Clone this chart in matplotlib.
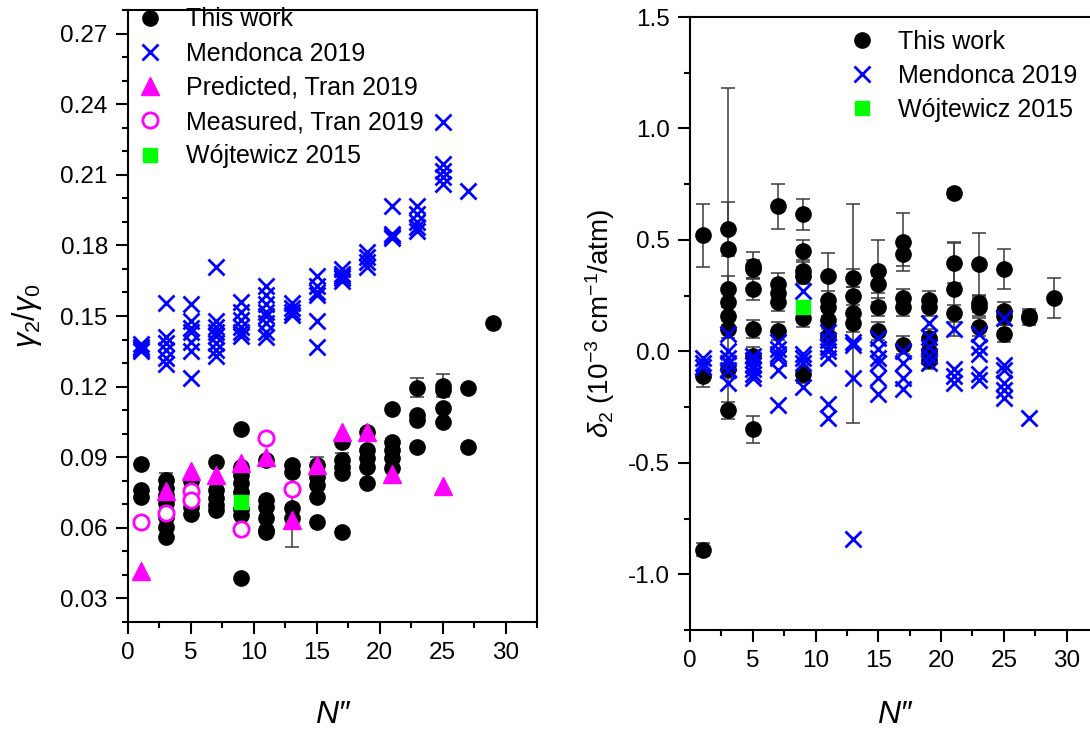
import matplotlib
matplotlib.use("Agg")
import matplotlib.pyplot as plt
from matplotlib.ticker import MultipleLocator

plt.rcParams['font.family'] = ['Liberation Sans', 'DejaVu Sans']
plt.rcParams['mathtext.fontset'] = 'custom'
plt.rcParams['mathtext.rm'] = 'Liberation Sans'
plt.rcParams['mathtext.it'] = 'Liberation Sans:italic'
plt.rcParams['axes.unicode_minus'] = False

# ---- left panel: gamma2/gamma0 ----
# This work (N'', value, error)
tw_n = [1, 1, 1,
        3, 3, 3, 3, 3, 3, 3,
        5, 5, 5, 5,
        7, 7, 7, 7, 7,
        9, 9, 9, 9, 9, 9, 9, 9,
        11, 11, 11, 11, 11, 11,
        13, 13, 13, 13,
        15, 15, 15, 15, 15,
        17, 17, 17, 17, 17,
        19, 19, 19, 19, 19,
        21, 21, 21, 21, 21,
        23, 23, 23, 23,
        25, 25, 25, 25,
        27, 27,
        29]
tw_g = [0.087, 0.076, 0.073,
        0.0804, 0.077, 0.074, 0.0706, 0.0647, 0.0604, 0.0562,
        0.080, 0.072, 0.069, 0.066,
        0.088, 0.0762, 0.0728, 0.0698, 0.0677,
        0.102, 0.086, 0.0826, 0.0792, 0.0753, 0.068, 0.0655, 0.0387,
        0.089, 0.0719, 0.069, 0.0643, 0.0591, 0.0583,
        0.0868, 0.0838, 0.0685, 0.064,
        0.0868, 0.0817, 0.0783, 0.0732, 0.0626,
        0.0966, 0.089, 0.086, 0.0834, 0.0583,
        0.1009, 0.0932, 0.0898, 0.086, 0.0792,
        0.1106, 0.0966, 0.0932, 0.0898, 0.0855,
        0.1196, 0.108, 0.106, 0.0945,
        0.1204, 0.1185, 0.111, 0.105,
        0.1196, 0.0945,
        0.1472]
tw_gerr = [0.001, 0.001, 0.001,
           0.003, 0.001, 0.001, 0.001, 0.001, 0.001, 0.001,
           0.001, 0.001, 0.001, 0.001,
           0.001, 0.001, 0.001, 0.001, 0.001,
           0.001, 0.001, 0.001, 0.001, 0.001, 0.001, 0.001, 0.001,
           0.001, 0.001, 0.001, 0.001, 0.001, 0.001,
           0.001, 0.001, 0.001, 0.012,
           0.0035, 0.001, 0.001, 0.001, 0.001,
           0.001, 0.003, 0.001, 0.001, 0.001,
           0.001, 0.001, 0.001, 0.001, 0.001,
           0.001, 0.001, 0.001, 0.001, 0.001,
           0.004, 0.001, 0.001, 0.001,
           0.005, 0.001, 0.001, 0.001,
           0.001, 0.001,
           0.001]

# Mendonca 2019
men_n = [1, 1, 1, 1,
         3, 3, 3, 3, 3, 3,
         5, 5, 5, 5, 5, 5, 5,
         7, 7, 7, 7, 7, 7, 7, 7,
         9, 9, 9, 9, 9, 9,
         11, 11, 11, 11, 11, 11, 11, 11,
         13, 13, 13, 13,
         15, 15, 15, 15, 15, 15,
         17, 17, 17, 17, 17,
         19, 19, 19, 19,
         21, 21, 21, 21,
         23, 23, 23, 23, 23,
         25, 25, 25, 25, 25,
         27]
men_g = [0.138, 0.137, 0.136, 0.135,
         0.1557, 0.1409, 0.1387, 0.1357, 0.1323, 0.1294,
         0.1553, 0.1477, 0.1451, 0.143, 0.1391, 0.135, 0.1238,
         0.171, 0.1477, 0.1455, 0.1434, 0.1413, 0.1387, 0.1357, 0.1328,
         0.156, 0.1519, 0.1485, 0.1455, 0.1434, 0.1413,
         0.1626, 0.159, 0.1549, 0.1519, 0.1498, 0.147, 0.1434, 0.141,
         0.1557, 0.1536, 0.1519, 0.1506,
         0.1668, 0.1626, 0.1604, 0.159, 0.1477, 0.137,
         0.170, 0.168, 0.167, 0.166, 0.165,
         0.177, 0.175, 0.173, 0.171,
         0.1966, 0.185, 0.184, 0.183,
         0.1966, 0.1932, 0.190, 0.188, 0.186,
         0.2323, 0.2145, 0.2115, 0.209, 0.206,
         0.203]

# Tran 2019
pred_n = [1, 3, 5, 7, 9, 11, 13, 15, 17, 19, 21, 25]
pred_g = [0.0415, 0.0757, 0.0843, 0.0826, 0.0877, 0.0902, 0.0634, 0.0868, 0.1009, 0.1009, 0.083, 0.0779]
meas_n = [1, 3, 5, 5, 9, 11, 13]
meas_g = [0.0626, 0.0664, 0.0757, 0.0719, 0.0596, 0.0983, 0.0766]

# Wojtewicz 2015
woj_n = [9]
woj_g = [0.0711]

# ---- right panel: delta2 ----
td_n = [1, 1, 1,
        3, 3, 3, 3, 3, 3, 3, 3,
        5, 5, 5, 5, 5, 5,
        7, 7, 7, 7, 7,
        9, 9, 9, 9, 9, 9,
        11, 11, 11, 11, 11,
        13, 13, 13, 13,
        15, 15, 15, 15,
        17, 17, 17, 17, 17,
        19, 19, 19, 19, 19,
        21, 21, 21, 21,
        23, 23, 23, 23,
        25, 25, 25, 25,
        27, 27,
        29]
td_d = [0.52, -0.11, -0.89,
        0.55, 0.46, 0.28, 0.22, 0.16, 0.10, -0.08, -0.265,
        0.385, 0.37, 0.28, 0.10, -0.02, -0.35,
        0.65, 0.30, 0.26, 0.22, 0.09,
        0.615, 0.45, 0.36, 0.34, 0.15, -0.10,
        0.34, 0.23, 0.20, 0.14, 0.07,
        0.33, 0.25, 0.17, 0.125,
        0.36, 0.30, 0.20, 0.09,
        0.49, 0.435, 0.24, 0.20, 0.03,
        0.23, 0.20, 0.06, 0.0, -0.04,
        0.71, 0.395, 0.28, 0.17,
        0.39, 0.215, 0.20, 0.11,
        0.37, 0.18, 0.16, 0.08,
        0.16, 0.15,
        0.24]
td_err = [0.14, 0.05, 0.03,
          0.12, 0.72, 0.06, 0.05, 0.04, 0.04, 0.04, 0.04,
          0.06, 0.04, 0.05, 0.04, 0.04, 0.06,
          0.10, 0.05, 0.04, 0.04, 0.04,
          0.07, 0.05, 0.05, 0.04, 0.04, 0.04,
          0.10, 0.04, 0.04, 0.04, 0.04,
          0.04, 0.04, 0.49, 0.04,
          0.14, 0.04, 0.04, 0.04,
          0.13, 0.05, 0.04, 0.04, 0.04,
          0.04, 0.04, 0.04, 0.04, 0.04,
          0.02, 0.09, 0.21, 0.04,
          0.14, 0.04, 0.04, 0.04,
          0.09, 0.04, 0.04, 0.04,
          0.03, 0.03,
          0.09]

mend_n = [1, 1, 1,
          3, 3, 3, 3, 3, 3,
          5, 5, 5, 5, 5, 5,
          7, 7, 7, 7, 7, 7,
          9, 9, 9, 9, 9,
          11, 11, 11, 11, 11, 11, 11,
          13, 13, 13, 13,
          15, 15, 15, 15, 15, 15,
          17, 17, 17, 17,
          19, 19, 19, 19, 19,
          21, 21, 21, 21,
          23, 23, 23, 23, 23,
          25, 25, 25, 25, 25, 25,
          27]
mend_d = [-0.03, -0.05, -0.07,
          0.08, 0.0, -0.03, -0.05, -0.085, -0.14,
          -0.02, -0.04, -0.06, -0.08, -0.10, -0.12,
          0.04, 0.01, -0.01, -0.03, -0.085, -0.24,
          0.27, -0.01, -0.03, -0.05, -0.16,
          0.085, 0.05, 0.02, 0.0, -0.03, -0.235, -0.30,
          0.04, 0.03, -0.12, -0.84,
          0.06, 0.01, -0.03, -0.05, -0.12, -0.19,
          0.0, -0.05, -0.12, -0.17,
          0.125, 0.065, 0.02, -0.02, -0.05,
          0.10, -0.08, -0.11, -0.14,
          0.08, 0.02, -0.01, -0.10, -0.13,
          0.15, -0.06, -0.085, -0.14, -0.175, -0.21,
          -0.30]

wojd_n = [9]
wojd_d = [0.20]

blue = '#0000FF'
mag = '#FF00FF'
green = '#00FF00'

fig = plt.figure(figsize=(10.9, 7.29), dpi=100)
ax1 = fig.add_axes([128 / 1090, 107 / 729, 409 / 1090, 612 / 729])
ax2 = fig.add_axes([690 / 1090, 99 / 729, 408 / 1090, 613 / 729])

ebkw = dict(fmt='none', ecolor='#3a3a3a', elinewidth=1.1, capsize=5, capthick=1.1, zorder=1)
legkw = dict(loc='upper left', frameon=False, fontsize=18, handlelength=1.0,
             handletextpad=0.95, borderpad=0.38, borderaxespad=0, labelspacing=0.41,
             numpoints=1)

# left
ax1.errorbar(tw_n, tw_g, yerr=tw_gerr, **ebkw)
ax1.plot(tw_n, tw_g, 'o', color='black', ms=11, label='This work', zorder=2)
ax1.plot(men_n, men_g, 'x', color=blue, ms=11, mew=2, label='Mendonca 2019', zorder=3)
ax1.plot(pred_n, pred_g, '^', color=mag, ms=13, label='Predicted, Tran 2019', zorder=4)
ax1.plot(meas_n, meas_g, 'o', mfc='white', mec=mag, mew=2, ms=11, label='Measured, Tran 2019', zorder=5)
ax1.plot(woj_n, woj_g, 's', color=green, ms=10, label='Wójtewicz 2015', zorder=6)

ax1.set_xlim(0, 32.5)
ax1.set_ylim(0.02, 0.28)
ax1.xaxis.set_major_locator(MultipleLocator(5))
ax1.xaxis.set_minor_locator(MultipleLocator(2.5))
ax1.yaxis.set_minor_locator(MultipleLocator(0.01))
ax1.set_yticks([0.03, 0.06, 0.09, 0.12, 0.15, 0.18, 0.21, 0.24, 0.27])
ax1.set_yticklabels(['0.03', '0.06', '0.09', '0.12', '0.15', '0.18', '0.21', '0.24', '0.27'])
ax1.set_ylabel(r'$\gamma_2/\gamma_0$', fontsize=22)
ax1.yaxis.set_label_coords(-0.205, 0.5)
ax1.set_xlabel('N\u2033', fontsize=23, style='italic')
ax1.xaxis.set_label_coords(0.5, -0.128)
ax1.legend(bbox_to_anchor=(0.0, 1.02), **legkw)

# right
ax2.errorbar(td_n, td_d, yerr=td_err, **ebkw)
ax2.plot(td_n, td_d, 'o', color='black', ms=11, label='This work', zorder=2)
ax2.plot(mend_n, mend_d, 'x', color=blue, ms=11, mew=2, label='Mendonca 2019', zorder=3)
ax2.plot(wojd_n, wojd_d, 's', color=green, ms=10, label='Wójtewicz 2015', zorder=6)

ax2.set_xlim(0, 32.5)
ax2.set_ylim(-1.25, 1.5)
ax2.xaxis.set_major_locator(MultipleLocator(5))
ax2.xaxis.set_minor_locator(MultipleLocator(2.5))
ax2.yaxis.set_major_locator(MultipleLocator(0.5))
ax2.yaxis.set_minor_locator(MultipleLocator(0.25))
ax2.yaxis.set_major_formatter(matplotlib.ticker.FormatStrFormatter('%.1f'))
ax2.set_ylabel(r'$\delta_2$ (10$^{-3}$ cm$^{-1}$/atm)', fontsize=20)
ax2.yaxis.set_label_coords(-0.18, 0.5)
ax2.set_xlabel('N\u2033', fontsize=23, style='italic')
ax2.xaxis.set_label_coords(0.5, -0.115)
ax2.legend(bbox_to_anchor=(0.368, 0.995), **legkw)

for ax in (ax1, ax2):
    for s in ax.spines.values():
        s.set_linewidth(1.5)
    ax.tick_params(which='major', direction='out', length=8.5, width=1.5, labelsize=17.5, pad=6)
    ax.tick_params(which='minor', direction='out', length=4.5, width=1.5)
    ax.tick_params(top=False, right=False, which='both')

fig.savefig('out.png', dpi=100)
